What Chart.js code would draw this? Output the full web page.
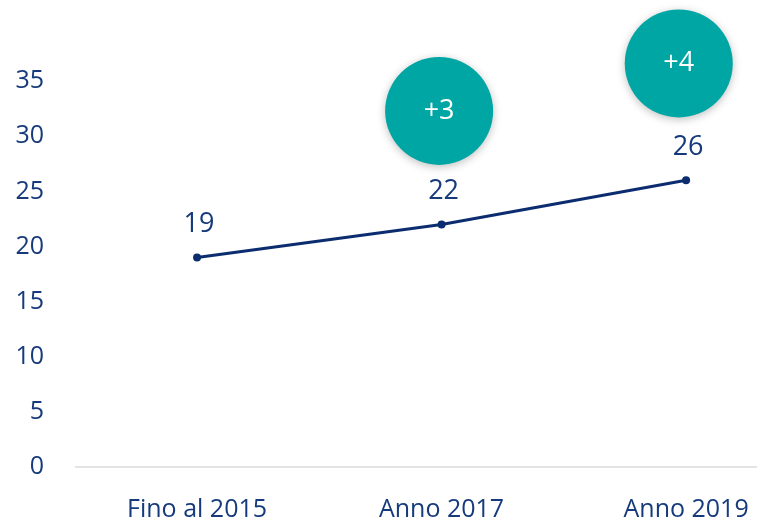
<!DOCTYPE html>
<html><head><meta charset="utf-8">
<script src="https://cdn.jsdelivr.net/npm/chart.js@4"></script>
<style>html,body{margin:0;padding:0;background:#fff;overflow:hidden}#wrap{width:757px;height:525px}</style>
</head><body><div id="wrap"><canvas id="c"></canvas></div>
<script>
const categories = ["Fino al 2015", "Anno 2017", "Anno 2019"];
const values = [19, 22, 26];
const deltaLabels = ["+3", "+4"];
const deltaX = [0.99, 1.97];
const deltaY = [32.3, 36.6];
const yTicks = [0, 5, 10, 15, 20, 25, 30, 35];

const NAVY = "#0b2d6f";
const TEXT = "#163a7c";
const TEAL = "#00a6a4";
const FONT = "'Open Sans', sans-serif";

const labelPlugin = {
  id: "labels",
  beforeDatasetDraw(chart, args) {
    if (args.index === 1) {
      const ctx = chart.ctx;
      ctx.save();
      ctx.shadowColor = "rgba(0,0,0,0.25)";
      ctx.shadowBlur = 8;
      ctx.shadowOffsetX = 0;
      ctx.shadowOffsetY = 2;
    }
  },
  afterDatasetDraw(chart, args) {
    if (args.index === 1) chart.ctx.restore();
  },
  afterDatasetsDraw(chart) {
    const ctx = chart.ctx;
    ctx.save();
    ctx.textAlign = "center";
    ctx.textBaseline = "middle";
    const m0 = chart.getDatasetMeta(0);
    ctx.fillStyle = TEXT;
    ctx.font = "27px " + FONT;
    m0.data.forEach((p, i) => {
      ctx.fillText(String(values[i]), p.x + 2, p.y - 33);
    });
    const m1 = chart.getDatasetMeta(1);
    ctx.fillStyle = "#ffffff";
    ctx.font = "27px " + FONT;
    m1.data.forEach((p, i) => {
      ctx.fillText(deltaLabels[i], p.x, p.y);
    });
    ctx.restore();
  }
};

function noPad(s) {
  s.paddingLeft = 0; s.paddingRight = 0; s.paddingTop = 0; s.paddingBottom = 0;
}

new Chart(document.getElementById("c"), {
  data: {
    datasets: [
      {
        type: "line",
        data: values.map((v, i) => ({ x: i, y: v })),
        borderColor: NAVY,
        backgroundColor: NAVY,
        borderWidth: 3,
        pointRadius: 4,
        pointBackgroundColor: NAVY,
        pointBorderWidth: 0,
        tension: 0,
        order: 2
      },
      {
        type: "bubble",
        data: deltaX.map((x, i) => ({ x: x, y: deltaY[i], r: 54 })),
        backgroundColor: TEAL,
        borderWidth: 0,
        clip: false,
        order: 1
      }
    ]
  },
  options: {
    responsive: true,
    maintainAspectRatio: false,
    animation: false,
    layout: { autoPadding: false, padding: { top: 26, right: 0, left: 0, bottom: 0 } },
    plugins: { legend: { display: false }, tooltip: { enabled: false } },
    scales: {
      x: {
        type: "linear",
        min: -0.495,
        max: 2.29,
        afterBuildTicks(s) { s.ticks = categories.map((c, i) => ({ value: i })); },
        afterFit(s) { s.height = 58; noPad(s); },
        grid: { display: false, drawTicks: false },
        border: { display: true, color: "#e3e3e3", width: 2 },
        ticks: {
          padding: 28,
          color: TEXT,
          font: { family: FONT, size: 25 },
          autoSkip: false,
          maxRotation: 0,
          callback: (v) => categories[v]
        }
      },
      y: {
        type: "linear",
        min: 0,
        max: 40,
        afterBuildTicks(s) { s.ticks = yTicks.map(v => ({ value: v })); },
        afterFit(s) { s.width = 76; noPad(s); },
        grid: { display: false, drawTicks: false },
        border: { display: false },
        ticks: {
          padding: 32,
          color: TEXT,
          font: { family: FONT, size: 25 }
        }
      }
    }
  },
  plugins: [labelPlugin]
});
</script>
</body></html>
